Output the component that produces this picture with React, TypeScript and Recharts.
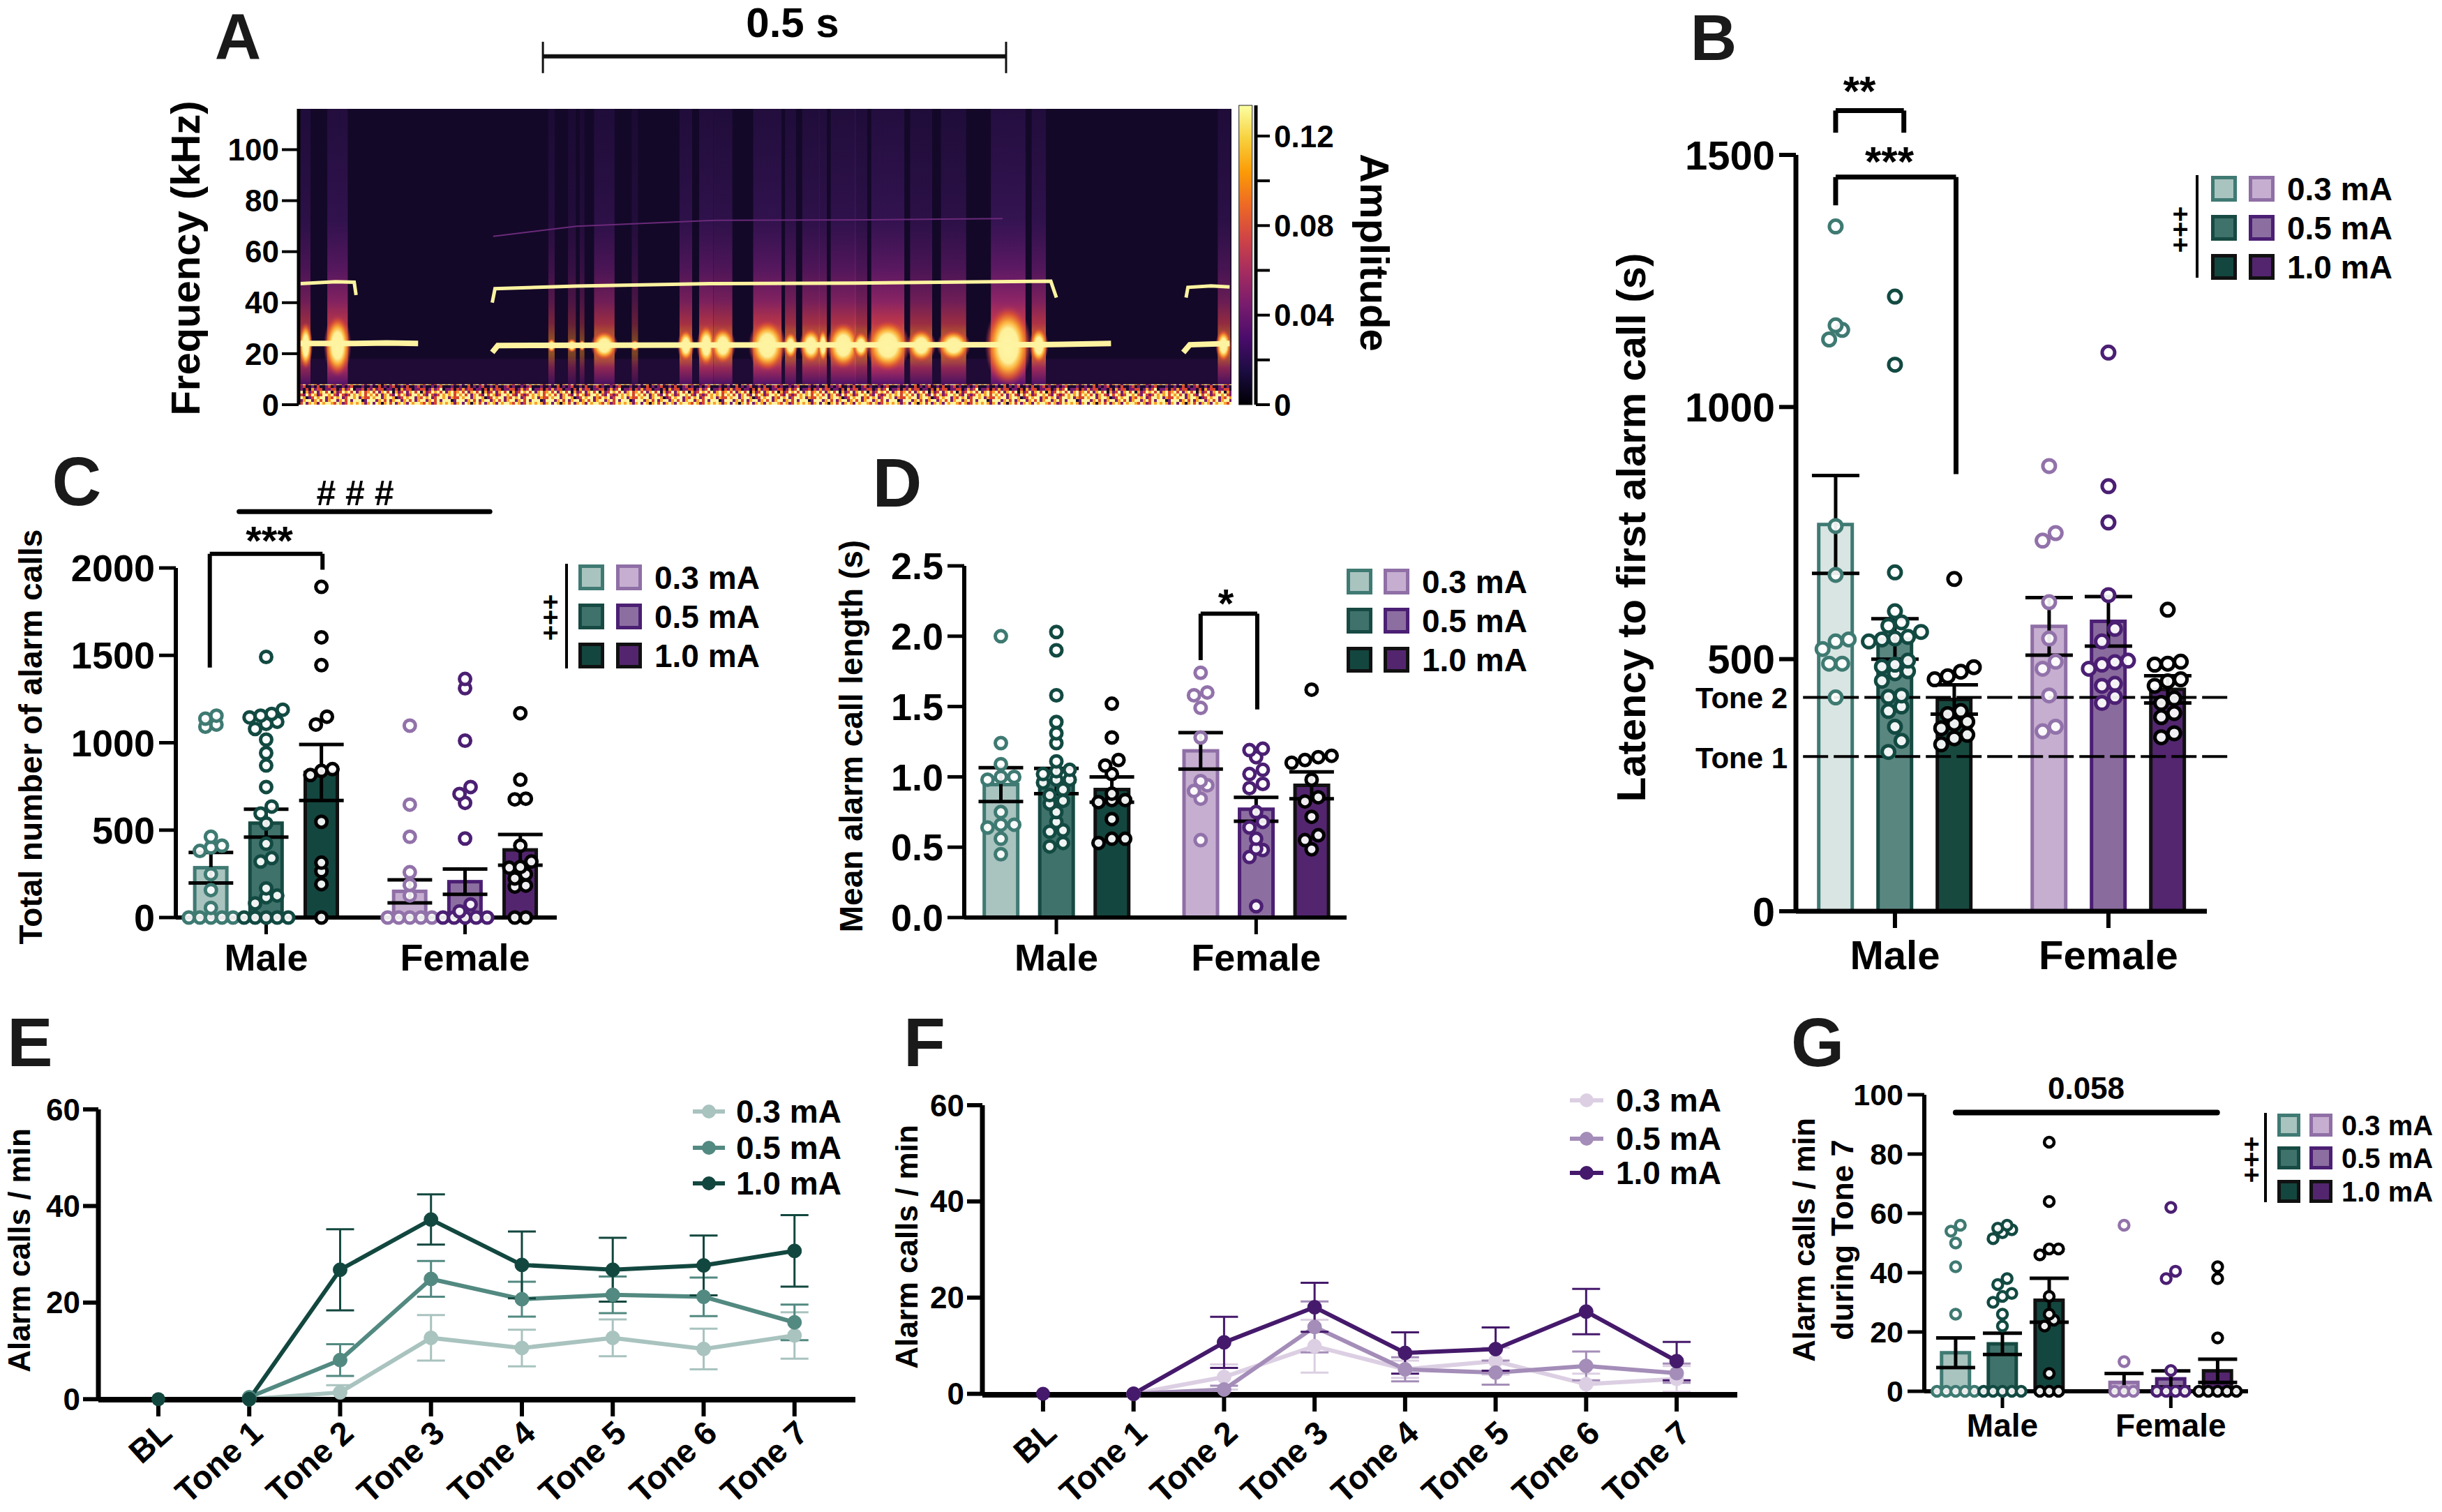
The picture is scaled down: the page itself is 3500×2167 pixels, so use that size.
import {
  ComposedChart,
  Bar,
  Line,
  Scatter,
  ErrorBar,
  XAxis,
  YAxis,
  ReferenceLine,
  ReferenceArea,
} from "recharts";

const FONT = '"Liberation Sans", Arial, sans-serif';

const doseLabels = ["0.3 mA", "0.5 mA", "1.0 mA"];
const sexLabels = ["Male", "Female"];
const toneLabels = ["BL", "Tone 1", "Tone 2", "Tone 3", "Tone 4", "Tone 5", "Tone 6", "Tone 7"];

// bar slots, male group centred on 0, female on 3.6
const slots = [-1, 0, 1, 2.6, 3.6, 4.6];
const groupCentres = [0, 3.6];

// panel B, latency (s)
const latencyMeans = [767, 540, 420, 565, 575, 440];
const latencyErrs = [97, 40, 29, 57, 49, 27];
const latencyPoints = [
  [1358, 1162, 1153, 1134, 764, 667, 539, 535, 520, 491, 491, 424],
  [1219, 1084, 672, 595, 573, 566, 554, 544, 541, 539, 535, 497, 489, 485, 476, 472, 457, 428, 425, 406, 397, 366, 338, 316],
  [659, 484, 475, 466, 460, 397, 391, 376, 372, 363, 350, 343, 331],
  [883, 750, 735, 613, 541, 495, 481, 428, 366, 357],
  [1108, 843, 771, 627, 560, 535, 497, 494, 489, 481, 451, 447, 425, 413],
  [598, 495, 491, 489, 460, 456, 447, 422, 413, 393, 385, 353, 345],
];
const tones = [424, 307];

// panel C, total calls
const totalMeans = [285, 540, 830, 150, 205, 387];
const totalErrs = [87, 80, 160, 66, 72, 88];
const totalPoints = [
  [1155, 1138, 1104, 1092, 462, 411, 401, 381, 248, 157, 55, 0, 0, 0, 0, 0],
  [1491, 1189, 1165, 1155, 1145, 1120, 1108, 1079, 1018, 941, 870, 747, 635, 595, 538, 422, 340, 320, 167, 126, 116, 81, 0, 0, 0, 0, 0],
  [1892, 1603, 1444, 1149, 1104, 849, 839, 815, 548, 314, 265, 191, 0],
  [1098, 646, 462, 259, 187, 126, 0, 0, 0, 0, 0],
  [1365, 1312, 1012, 747, 707, 656, 452, 75, 35, 0, 0, 0, 0, 0],
  [1169, 788, 680, 676, 411, 320, 289, 285, 248, 224, 183, 177, 0, 0],
];

// panel D, mean call length (s)
const lengthMeans = [0.945, 0.97, 0.91, 1.185, 0.77, 0.94];
const lengthErrs = [0.12, 0.09, 0.09, 0.13, 0.085, 0.095];
const lengthPoints = [
  [2.0, 1.24, 1.09, 1.0, 1.0, 0.98, 0.75, 0.66, 0.66, 0.64, 0.56, 0.45],
  [2.03, 1.9, 1.58, 1.39, 1.31, 1.24, 1.11, 1.05, 1.04, 1.02, 0.98, 0.98, 0.96, 0.91, 0.87, 0.83, 0.81, 0.75, 0.68, 0.62, 0.61, 0.53, 0.505],
  [1.52, 1.28, 1.12, 1.08, 1.02, 0.88, 0.835, 0.835, 0.82, 0.7, 0.56, 0.56, 0.53],
  [1.74, 1.6, 1.58, 1.49, 1.28, 0.97, 0.94, 0.9, 0.845, 0.55],
  [1.2, 1.19, 1.14, 1.05, 1.02, 0.95, 0.92, 0.75, 0.68, 0.64, 0.56, 0.49, 0.48, 0.43, 0.08],
  [1.62, 1.15, 1.14, 1.12, 1.1, 0.98, 0.855, 0.825, 0.716, 0.585, 0.55, 0.485],
];

// panel G, calls during tone 7
const toneSevenMeans = [13, 16, 30.7, 3, 4.2, 6.9];
const toneSevenErrs = [5, 3.6, 7.4, 3, 2.7, 3.9];
const toneSevenPoints = [
  [56, 54, 50, 42, 26, 0, 0, 0, 0, 0],
  [56, 55, 54.5, 53.5, 51.5, 38, 36, 33, 32, 30, 26, 22, 0, 0, 0, 0, 0],
  [84, 64, 48, 48, 46, 32, 26, 24, 22, 6, 0, 0, 0],
  [56, 10, 0, 0, 0],
  [62, 40.5, 38, 7, 0, 0, 0, 0],
  [42, 38, 18, 0, 0, 0, 0, 0],
];

// panels E and F, calls per minute across the session
const male03 = [0, 0, 1.4, 12.7, 10.6, 12.7, 10.4, 13.2];
const male03Err = [null, null, 1.5, 4.7, 3.8, 3.8, 4.2, 4.8];
const male05 = [0, 0.4, 8.1, 24.9, 20.7, 21.6, 21.2, 15.9];
const male05Err = [null, null, 3.3, 3.7, 3.6, 3.8, 4, 3.7];
const male10 = [0, 0, 26.8, 37.2, 27.8, 26.8, 27.7, 30.7];
const male10Err = [null, null, 8.4, 5.2, 6.9, 6.6, 6.2, 7.4];
const female03 = [0, 0, 3.5, 9.9, 5.1, 6.8, 2.0, 3.1];
const female03Err = [null, null, 2.6, 5.5, 1.8, 2.8, 2.2, 2.7];
const female05 = [0, 0, 0.9, 13.9, 5.1, 4.4, 5.8, 4.3];
const female05Err = [null, null, 0.8, 5.3, 2.5, 2.5, 3, 2];
const female10 = [0, 0, 10.7, 18, 8.5, 9.3, 17.1, 6.8];
const female10Err = [null, null, 5.3, 5.1, 4.3, 4.5, 4.7, 4];

// panel A, call contours as (time s, frequency kHz)
const whistleHigh = [
  [[0.002, 47.5], [0.04, 48.2], [0.06, 48], [0.062, 43]],
  [[0.209, 40], [0.212, 45.5], [0.3, 46.5], [0.45, 47.5], [0.6, 47.7], [0.75, 48.2], [0.812, 48.4], [0.818, 42]],
  [[0.958, 42], [0.96, 46], [0.985, 46.6], [1.005, 46.2]],
];
const whistleLow = [
  [[0.002, 24], [0.06, 24], [0.095, 24.2], [0.129, 24]],
  [[0.209, 20.5], [0.215, 23.2], [0.45, 23.4], [0.8, 23.5], [0.877, 24]],
  [[0.955, 20.5], [0.962, 23.5], [1.005, 24]],
];
const faintHarmonic = [[0.21, 66], [0.3, 70], [0.45, 72.3], [0.62, 72.5], [0.76, 73]];
// broadband bursts: time, half width (s), half height of the hot core (kHz), column opacity
const bursts = [
  [0.006, 0.008, 5, 0.75], [0.042, 0.013, 6.5, 0.9], [0.273, 0.004, 1.5, 0.55], [0.295, 0.005, 1.5, 0.45], [0.306, 0.003, 1.2, 0.45],
  [0.33, 0.013, 3.2, 0.75], [0.363, 0.004, 1.2, 0.45], [0.418, 0.008, 3.5, 0.8], [0.44, 0.009, 4.5, 0.85], [0.458, 0.012, 4, 0.8],
  [0.506, 0.018, 5.5, 0.9], [0.531, 0.007, 3, 0.75], [0.553, 0.011, 3.8, 0.8], [0.566, 0.005, 3.6, 0.8], [0.588, 0.016, 5, 0.85],
  [0.607, 0.008, 3, 0.75], [0.636, 0.021, 5.5, 0.95], [0.672, 0.014, 3.6, 0.75], [0.707, 0.016, 3.4, 0.75], [0.766, 0.022, 8.5, 1],
  [0.799, 0.009, 4, 0.85], [0.999, 0.008, 3.5, 0.7],
];
// noise floor texture, read as amplitude levels 0-4
const floorTile = [
  "01002010120010200120100101200010",
  "21312201102031220112201312401120",
  "34241342403124134240312434241342",
  "43424134214243124434214212434342",
  "24344134430124344132434124434132",
  "44413424134413424134413424144401",
  "34143034241343143443243124343431",
];
const floorColours = ["#1c0b30", "#7a1d6d", "#d9452f", "#f9a12a", "#fdf3a0"];
const inferno = ["#000004", "#1b0c41", "#4a0c6b", "#781c6d", "#a52c60", "#cf4446", "#ed6925", "#fb9b06", "#f7d13d", "#fcffa4"];

const frequencyTicks = [0, 20, 40, 60, 80, 100];
const amplitudeTicks = [0, 0.02, 0.04, 0.06, 0.08, 0.1, 0.12];
const amplitudeLabels = ["0", "", "0.04", "", "0.08", "", "0.12"];
const amplitudeTop = 0.1337;

const barFill = ["#a9c3bf", "#3f726b", "#13463f", "#c6aed0", "#8c6fa0", "#54256f"];
const barEdge = ["#3f7a73", "#164a42", "#111111", "#8f6fa6", "#4b1f73", "#111111"];
const latencyFill = ["#d9e5e2", "#5a8680", "#17493f", "#c6aed0", "#8a6b9e", "#53266f"];
const dotEdge = ["#3e7a72", "#124a42", "#000000", "#9272aa", "#4b1f73", "#000000"];
const maleLine = ["#a9c3bf", "#528981", "#12473f"];
const femaleLine = ["#dccfe3", "#a48db8", "#45196b"];

// GraphPad style swarm: close values get spread sideways
function swarm(values: number[], bin: number, step: number) {
  const sorted = [...values].sort((a, b) => a - b);
  const out: { y: number; off: number }[] = [];
  let run: number[] = [];
  const flush = () => {
    run.forEach((y, i) => out.push({ y, off: (i - (run.length - 1) / 2) * step }));
    run = [];
  };
  sorted.forEach((v) => {
    if (run.length && (v - run[0] > bin || run.length >= 5)) flush();
    run.push(v);
  });
  flush();
  return out;
}

function Txt({ x, y, size, rotate = 0, color = "#000", children }: any) {
  return (
    <div
      style={{
        position: "absolute",
        left: x,
        top: y,
        transform: `translate(-50%, -50%) rotate(${rotate}deg)`,
        fontFamily: FONT,
        fontWeight: "bold",
        fontSize: size,
        lineHeight: 1,
        whiteSpace: "nowrap",
        color,
      }}
    >
      {children}
    </div>
  );
}

function Box({ x, y, w, h, fill, edge = "none", bw = 0 }: any) {
  return (
    <div
      style={{
        position: "absolute",
        left: x,
        top: y,
        width: w,
        height: h,
        boxSizing: "border-box",
        background: fill,
        border: bw ? `${bw}px solid ${edge}` : "none",
      }}
    />
  );
}

function SquareLegend({ x1, x2, w, h, rows, textX, font, rule, plus, plusSize = 38 }: any) {
  return (
    <>
      {rows.map((y: number, i: number) => (
        <div key={i}>
          <Box x={x1} y={y} w={w} h={h} fill={barFill[i]} edge={barEdge[i]} bw={5} />
          <Box x={x2} y={y} w={w} h={h} fill={barFill[i + 3]} edge={barEdge[i + 3]} bw={5} />
          <div
            style={{
              position: "absolute",
              left: textX,
              top: y + h / 2,
              transform: "translateY(-50%)",
              fontFamily: FONT,
              fontWeight: "bold",
              fontSize: font,
              lineHeight: 1,
              whiteSpace: "nowrap",
            }}
          >
            {doseLabels[i]}
          </div>
        </div>
      ))}
      {rule && <Box x={rule[0]} y={rule[1]} w={4} h={rule[2] - rule[1]} fill="#000" />}
      {plus && (
        <Txt x={plus[0]} y={plus[1]} size={plusSize} rotate={-90}>
          +++
        </Txt>
      )}
    </>
  );
}

function LineLegend({ x1, x2, textX, rows, colours, font }: any) {
  return (
    <>
      {rows.map((y: number, i: number) => (
        <div key={i}>
          <Box x={x1} y={y - 3} w={x2 - x1} h={6} fill={colours[i]} />
          <div
            style={{
              position: "absolute",
              left: (x1 + x2) / 2 - 10,
              top: y - 10,
              width: 20,
              height: 20,
              borderRadius: 10,
              background: colours[i],
            }}
          />
          <div
            style={{
              position: "absolute",
              left: textX,
              top: y,
              transform: "translateY(-50%)",
              fontFamily: FONT,
              fontWeight: "bold",
              fontSize: font,
              lineHeight: 1,
              whiteSpace: "nowrap",
            }}
          >
            {doseLabels[i]}
          </div>
        </div>
      ))}
    </>
  );
}

// a polyline of data coordinates drawn as reference segments
function dataPath(path: number[][], width: number, key: string, colour = "#000", cap = "butt") {
  return path.slice(1).map((p, i) => (
    <ReferenceLine
      key={`${key}${i}`}
      segment={[
        { x: path[i][0], y: path[i][1] },
        { x: p[0], y: p[1] },
      ]}
      ifOverflow="visible"
      stroke={colour}
      strokeWidth={width}
      strokeLinecap={cap as any}
    />
  ));
}

function contour(path: number[][], width: number, key: string, colour: string) {
  return (
    <Line
      key={key}
      data={path.map(([t, f]) => ({ t, f }))}
      dataKey="f"
      type="linear"
      dot={false}
      stroke={colour}
      strokeWidth={width}
      isAnimationActive={false}
    />
  );
}

function RingDot(props: any) {
  const { cx, cy, stroke, r, sw } = props;
  return <circle cx={cx} cy={cy} r={r} fill="#fff" fillOpacity={0.92} stroke={stroke} strokeWidth={sw} />;
}

const PAD_LEFT = 170;
const PAD_TOP = 140;
const PAD_BOTTOM = 110;

function BarPanel({
  left,
  right,
  top,
  bottom,
  xDomain,
  yMax,
  yTicks,
  yFormat,
  means,
  errs,
  points,
  fills = barFill,
  bin,
  step,
  barSize,
  edge = 5,
  r = 8,
  ringWidth = 5,
  capWidth = 32,
  axisWidth = 6,
  tickFont,
  xFont,
  xMargin = 8,
  padRight = 30,
  children,
}: any) {
  const rows = slots.map((x, i) => ({ x, mean: means[i], err: errs[i] }));
  const drawBar = (p: any) => (
    <rect
      x={p.x + p.width / 2 - barSize / 2}
      y={p.y}
      width={barSize}
      height={p.height}
      fill={fills[p.index]}
      stroke={barEdge[p.index]}
      strokeWidth={edge}
    />
  );
  return (
    <div style={{ position: "absolute", left: left - PAD_LEFT, top: top - PAD_TOP }}>
      <ComposedChart
        width={right - left + PAD_LEFT + padRight}
        height={bottom - top + PAD_TOP + PAD_BOTTOM}
        data={rows}
        margin={{ top: PAD_TOP, left: 0, right: padRight, bottom: 0 }}
      >
        <XAxis
          dataKey="x"
          type="number"
          domain={xDomain}
          ticks={groupCentres}
          interval={0}
          height={PAD_BOTTOM}
          tickSize={24}
          tickMargin={xMargin}
          tickFormatter={(v: number) => sexLabels[groupCentres.indexOf(v)]}
          axisLine={{ stroke: "#000", strokeWidth: axisWidth }}
          tickLine={{ stroke: "#000", strokeWidth: axisWidth - 1 }}
          tick={{ fontFamily: FONT, fontWeight: "bold", fontSize: xFont, fill: "#000" }}
        />
        <YAxis
          type="number"
          domain={[0, yMax]}
          ticks={yTicks}
          interval={0}
          width={PAD_LEFT}
          tickSize={24}
          tickMargin={6}
          tickFormatter={yFormat}
          axisLine={{ stroke: "#000", strokeWidth: axisWidth }}
          tickLine={{ stroke: "#000", strokeWidth: axisWidth - 1 }}
          tick={{ fontFamily: FONT, fontWeight: "bold", fontSize: tickFont, fill: "#000" }}
        />
        <Bar dataKey="mean" isAnimationActive={false} shape={drawBar} />
        {points.map((vals: number[], i: number) => (
          <Scatter
            key={i}
            data={swarm(vals, bin, step).map((p) => ({ x: slots[i] + p.off, y: p.y }))}
            dataKey="y"
            isAnimationActive={false}
            stroke={dotEdge[i]}
            shape={<RingDot r={r} sw={ringWidth} />}
          />
        ))}
        <Scatter data={rows} dataKey="mean" isAnimationActive={false} shape={() => <g />}>
          <ErrorBar direction="y" dataKey="err" width={capWidth} stroke="#000" strokeWidth={5} isAnimationActive={false} />
        </Scatter>
        {children}
      </ComposedChart>
    </div>
  );
}

function LinePanel({ left, right, top, bottom, xDomain, series, errors, colours, tickFont, labelFont, labelMargin = 10 }: any) {
  const rows = toneLabels.map((_, i) => ({
    x: i,
    a: series[0][i],
    b: series[1][i],
    c: series[2][i],
    ea: errors[0][i],
    eb: errors[1][i],
    ec: errors[2][i],
  }));
  const keys = [
    ["a", "ea"],
    ["b", "eb"],
    ["c", "ec"],
  ];
  return (
    <div style={{ position: "absolute", left: left - 110, top: top - 30 }}>
      <ComposedChart
        width={right - left + 130}
        height={2167 - top + 30}
        data={rows}
        margin={{ top: 30, left: 0, right: 20, bottom: 0 }}
      >
        <XAxis
          dataKey="x"
          type="number"
          domain={xDomain}
          ticks={toneLabels.map((_, i) => i)}
          interval={0}
          height={2167 - bottom}
          tickSize={24}
          tickMargin={labelMargin}
          angle={-42}
          textAnchor="end"
          tickFormatter={(v: number) => toneLabels[v]}
          axisLine={{ stroke: "#000", strokeWidth: 8 }}
          tickLine={{ stroke: "#000", strokeWidth: 6 }}
          tick={{ fontFamily: FONT, fontWeight: "bold", fontSize: labelFont, fill: "#000" }}
        />
        <YAxis
          type="number"
          domain={[0, 60]}
          ticks={[0, 20, 40, 60]}
          interval={0}
          width={110}
          tickSize={22}
          tickMargin={4}
          axisLine={{ stroke: "#000", strokeWidth: 7 }}
          tickLine={{ stroke: "#000", strokeWidth: 6 }}
          tick={{ fontFamily: FONT, fontWeight: "bold", fontSize: tickFont, fill: "#000" }}
        />
        {keys.map(([v, e], i) => (
          <Line
            key={v}
            data={rows.slice(1)}
            dataKey={v}
            type="linear"
            stroke={colours[i]}
            strokeWidth={6}
            dot={{ r: 10, fill: colours[i], stroke: colours[i], strokeWidth: 1 }}
            isAnimationActive={false}
          >
            <ErrorBar direction="y" dataKey={e} width={20} stroke={colours[i]} strokeWidth={3} isAnimationActive={false} />
          </Line>
        ))}
        <Scatter
          data={rows.slice(0, 1)}
          dataKey="c"
          isAnimationActive={false}
          shape={(p: any) => <circle cx={p.cx} cy={p.cy} r={10} fill={colours[2]} />}
        />
      </ComposedChart>
    </div>
  );
}

function blobShape(p: any) {
  return <ellipse cx={p.x + p.width / 2} cy={p.y + p.height / 2} rx={p.width / 2} ry={p.height / 2} fill="url(#blobHeat)" />;
}

function Spectrogram() {
  const t0 = 0.2637;
  const capTop = 142.3;
  const capBottom = 130;
  const barY = 136.6;
  return (
    <div style={{ position: "absolute", left: 270, top: 0 }}>
      <ComposedChart width={1500} height={630} data={[{ t: 0, f: 0 }]} margin={{ top: 156, left: 0, right: 5, bottom: 50 }}>
        <defs>
          <radialGradient id="blobHeat">
            <stop offset="0%" stopColor="#fff6a8" />
            <stop offset="42%" stopColor="#fdf09a" />
            <stop offset="58%" stopColor="#fbb03a" />
            <stop offset="78%" stopColor="#e0572f" stopOpacity={0.8} />
            <stop offset="100%" stopColor="#a52c60" stopOpacity={0} />
          </radialGradient>
          <linearGradient id="smear" x1="0" y1="0" x2="0" y2="1">
            <stop offset="0%" stopColor="#3d1763" stopOpacity={0.4} />
            <stop offset="40%" stopColor="#4a1a6c" stopOpacity={0.6} />
            <stop offset="58%" stopColor="#6a1c6e" stopOpacity={0.85} />
            <stop offset="70%" stopColor="#8f2566" />
            <stop offset="78%" stopColor="#c93a4a" />
            <stop offset="84%" stopColor="#f58a20" />
            <stop offset="89%" stopColor="#f58a20" />
            <stop offset="94%" stopColor="#b5305f" />
            <stop offset="100%" stopColor="#5a1470" />
          </linearGradient>
          <pattern id="floor" width={128} height={28} patternUnits="userSpaceOnUse" patternTransform="translate(0 552)">
            {floorTile.map((row, r) =>
              row.split("").map((c, i) => <rect key={`${r}-${i}`} x={i * 4} y={r * 4} width={4} height={4} fill={floorColours[+c]} />)
            )}
          </pattern>
        </defs>
        <XAxis dataKey="t" type="number" domain={[0, 1.007]} hide />
        <YAxis
          type="number"
          domain={[0, 116]}
          ticks={frequencyTicks}
          interval={0}
          width={158}
          tickSize={24}
          tickMargin={4}
          axisLine={{ stroke: "#000", strokeWidth: 5 }}
          tickLine={{ stroke: "#000", strokeWidth: 4 }}
          tick={{ fontFamily: FONT, fontWeight: "bold", fontSize: 44, fill: "#000" }}
        />
        <ReferenceArea x1={0} x2={1.007} y1={0} y2={116} fill="#130828" fillOpacity={1} stroke="none" />
        <ReferenceArea x1={0} x2={1.007} y1={8} y2={18} fill="#3a1356" fillOpacity={0.3} stroke="none" />
        {bursts.map(([t, w, , op], i) => (
          <ReferenceArea
            key={`c${i}`}
            x1={Math.max(t - w * 0.85, 0)}
            x2={Math.min(t + w * 0.85, 1.007)}
            y1={8}
            y2={116}
            fill="url(#smear)"
            fillOpacity={op}
            stroke="none"
          />
        ))}
        {bursts.map(([t, w, h], i) => (
          <ReferenceArea
            key={`b${i}`}
            x1={Math.max(t - w * 1.15, 0)}
            x2={Math.min(t + w * 1.15, 1.007)}
            y1={23.2 - h * 1.9}
            y2={23.2 + h * 1.9}
            ifOverflow="visible"
            shape={blobShape}
          />
        ))}
        <ReferenceArea x1={0} x2={1.007} y1={0} y2={8} fill="url(#floor)" fillOpacity={1} stroke="none" />
        {whistleHigh.map((p, i) => contour(p, 5, `hi${i}`, "#fdf3a0"))}
        {whistleLow.map((p, i) => contour(p, 8, `lo${i}`, "#fdf3a0"))}
        {contour(faintHarmonic, 2, "fa", "#6b2a7a")}
        {dataPath([[t0, barY], [t0 + 0.5, barY]], 6, "sb", "#111")}
        {dataPath([[t0, capTop], [t0, capBottom]], 3, "sl", "#111")}
        {dataPath([[t0 + 0.5, capTop], [t0 + 0.5, capBottom]], 3, "sr", "#111")}
      </ComposedChart>
    </div>
  );
}

function ColourBar() {
  const drawScale = (p: any) => <rect x={p.background?.x ?? p.x} y={p.y} width={19} height={p.height} fill="url(#inferno)" stroke="#222" strokeWidth={1} />;
  return (
    <div style={{ position: "absolute", left: 1773, top: 141 }}>
      <ComposedChart width={160} height={489} data={[{ x: 0.5, amp: amplitudeTop }]} margin={{ top: 10, left: 0, right: 0, bottom: 50 }}>
        <defs>
          <linearGradient id="inferno" x1="0" y1="1" x2="0" y2="0">
            {inferno.map((c, i) => (
              <stop key={c} offset={`${(i * 100) / (inferno.length - 1)}%`} stopColor={c} />
            ))}
          </linearGradient>
        </defs>
        <XAxis dataKey="x" type="category" hide />
        <YAxis
          orientation="right"
          type="number"
          domain={[0, amplitudeTop]}
          ticks={amplitudeTicks}
          interval={0}
          width={133}
          tickSize={20}
          tickMargin={6}
          tickFormatter={(_: number, i: number) => amplitudeLabels[i]}
          axisLine={{ stroke: "#000", strokeWidth: 5 }}
          tickLine={{ stroke: "#000", strokeWidth: 4 }}
          tick={{ fontFamily: FONT, fontWeight: "bold", fontSize: 44, fill: "#000" }}
        />
        <Bar dataKey="amp" isAnimationActive={false} shape={drawScale} />
      </ComposedChart>
    </div>
  );
}

export default function App() {
  return (
    <div style={{ position: "absolute", left: 0, top: 0, width: 3500, height: 2167, background: "#fff" }}>
      {/* A */}
      <Txt x={341} y={52} size={92} color="#1a1a1a">A</Txt>
      <Txt x={1136} y={33} size={60}>0.5 s</Txt>
      <Txt x={266} y={370} size={58} rotate={-90}>Frequency (kHz)</Txt>
      <Txt x={1970} y={362} size={58} rotate={90}>Amplitude</Txt>
      <Spectrogram />
      <ColourBar />

      {/* B */}
      <Txt x={2456} y={54} size={92} color="#1a1a1a">B</Txt>
      <Txt x={2338} y={756} size={58} rotate={-90}>Latency to first alarm call (s)</Txt>
      <BarPanel
        left={2574}
        right={3163}
        top={222}
        bottom={1306}
        xDomain={[-1.67, 5.26]}
        yMax={1500}
        yTicks={[0, 500, 1000, 1500]}
        means={latencyMeans}
        errs={latencyErrs}
        points={latencyPoints}
        fills={latencyFill}
        bin={25}
        step={0.22}
        barSize={48}
        r={9}
        capWidth={34}
        axisWidth={7}
        tickFont={58}
        xFont={58}
        xMargin={18}
        padRight={60}
      >
        {dataPath([[-1, 1544], [-1, 1588], [0.15, 1588], [0.15, 1544]], 7, "b1")}
        {dataPath([[-1, 1400], [-1, 1456], [1.03, 1456], [1.03, 867]], 7, "b2")}
        {tones.map((v, i) => (
          <ReferenceLine
            key={i}
            segment={[
              { x: -1.55, y: v },
              { x: 5.63, y: v },
            ]}
            ifOverflow="visible"
            stroke="#000"
            strokeWidth={4}
            strokeDasharray="36 8"
          />
        ))}
      </BarPanel>
      <Txt x={2665} y={131} size={60}>**</Txt>
      <Txt x={2708} y={232} size={60}>***</Txt>
      <Txt x={2496} y={1001} size={42}>Tone 2</Txt>
      <Txt x={2496} y={1087} size={42}>Tone 1</Txt>
      <SquareLegend x1={3169} x2={3223} w={37} h={37} rows={[252, 308, 364]} textX={3278} font={46} rule={[3147, 251, 398]} plus={[3125, 329]} />

      {/* C */}
      <Txt x={110} y={690} size={98} color="#1a1a1a">C</Txt>
      <Txt x={44} y={1056} size={46} rotate={-90}>Total number of alarm calls</Txt>
      <BarPanel
        left={252}
        right={798}
        top={814}
        bottom={1315}
        xDomain={[-1.635, 5.26]}
        yMax={2000}
        yTicks={[0, 500, 1000, 1500, 2000]}
        means={totalMeans}
        errs={totalErrs}
        points={totalPoints}
        bin={45}
        step={0.2}
        barSize={46}
        tickFont={54}
        xFont={54}
        xMargin={14}
      >
        {dataPath([[-1.02, 1430], [-1.02, 2081], [1.02, 2081], [1.02, 1990]], 6, "c1")}
        {dataPath([[-0.49, 2322], [4.05, 2322]], 7, "c2", "#000", "round")}
      </BarPanel>
      <Txt x={386} y={775} size={58}>***</Txt>
      <Txt x={509} y={707} size={50}># # #</Txt>
      <SquareLegend x1={829} x2={883} w={37} h={37} rows={[809, 865, 921]} textX={938} font={46} rule={[810, 808, 958]} plus={[789, 885]} />

      {/* D */}
      <Txt x={1286} y={692} size={98} color="#1a1a1a">D</Txt>
      <Txt x={1220} y={1055} size={46} rotate={-90}>Mean alarm call length (s)</Txt>
      <BarPanel
        left={1382}
        right={1930}
        top={811}
        bottom={1315}
        xDomain={[-1.66, 5.23]}
        yMax={2.5}
        yTicks={[0, 0.5, 1, 1.5, 2, 2.5]}
        yFormat={(v: number) => v.toFixed(1)}
        means={lengthMeans}
        errs={lengthErrs}
        points={lengthPoints}
        bin={0.05}
        step={0.24}
        barSize={48}
        tickFont={54}
        xFont={54}
        xMargin={14}
      >
        {dataPath([[2.6, 1.83], [2.6, 2.16], [3.62, 2.16], [3.62, 1.48]], 6, "d1")}
      </BarPanel>
      <Txt x={1757} y={865} size={58}>*</Txt>
      <SquareLegend x1={1930} x2={1983} w={37} h={37} rows={[815, 871, 927]} textX={2038} font={46} />

      {/* E */}
      <Txt x={43} y={1494} size={98} color="#1a1a1a">E</Txt>
      <Txt x={28} y={1792} size={44} rotate={-90}>Alarm calls / min</Txt>
      <LinePanel
        left={141}
        right={1226}
        top={1590}
        bottom={2006}
        xDomain={[-0.66, 7.67]}
        series={[male03, male05, male10]}
        errors={[male03Err, male05Err, male10Err]}
        colours={maleLine}
        tickFont={44}
        labelFont={47}
        labelMargin={3}
      />
      <LineLegend x1={993} x2={1039} textX={1055} rows={[1593, 1645, 1696]} colours={maleLine} font={46} />

      {/* F */}
      <Txt x={1325} y={1494} size={98} color="#1a1a1a">F</Txt>
      <Txt x={1300} y={1787} size={44} rotate={-90}>Alarm calls / min</Txt>
      <LinePanel
        left={1408}
        right={2490}
        top={1584}
        bottom={1999}
        xDomain={[-0.67, 7.67]}
        series={[female03, female05, female10]}
        errors={[female03Err, female05Err, female10Err]}
        colours={femaleLine}
        tickFont={44}
        labelFont={47}
      />
      <LineLegend x1={2250} x2={2298} textX={2316} rows={[1577, 1632, 1681]} colours={femaleLine} font={46} />

      {/* G */}
      <Txt x={2605} y={1494} size={98} color="#1a1a1a">G</Txt>
      <Txt x={2586} y={1777} size={44} rotate={-90}>Alarm calls / min</Txt>
      <Txt x={2641} y={1777} size={44} rotate={-90}>during Tone 7</Txt>
      <BarPanel
        left={2758}
        right={3222}
        top={1569}
        bottom={1994}
        xDomain={[-1.67, 5.25]}
        yMax={100}
        yTicks={[0, 20, 40, 60, 80, 100]}
        means={toneSevenMeans}
        errs={toneSevenErrs}
        points={toneSevenPoints}
        bin={3}
        step={0.2}
        barSize={40}
        r={7}
        ringWidth={4.5}
        capWidth={28}
        axisWidth={6}
        tickFont={43}
        xFont={46}
      >
        {dataPath([[-1, 94], [4.59, 94]], 8, "g1", "#000", "round")}
      </BarPanel>
      <Txt x={2990} y={1560} size={44}>0.058</Txt>
      <SquareLegend x1={3264} x2={3310} w={33} h={33} rows={[1596, 1643, 1691]} textX={3356} font={40} rule={[3245, 1595, 1723]} plus={[3227, 1662]} />
    </div>
  );
}
